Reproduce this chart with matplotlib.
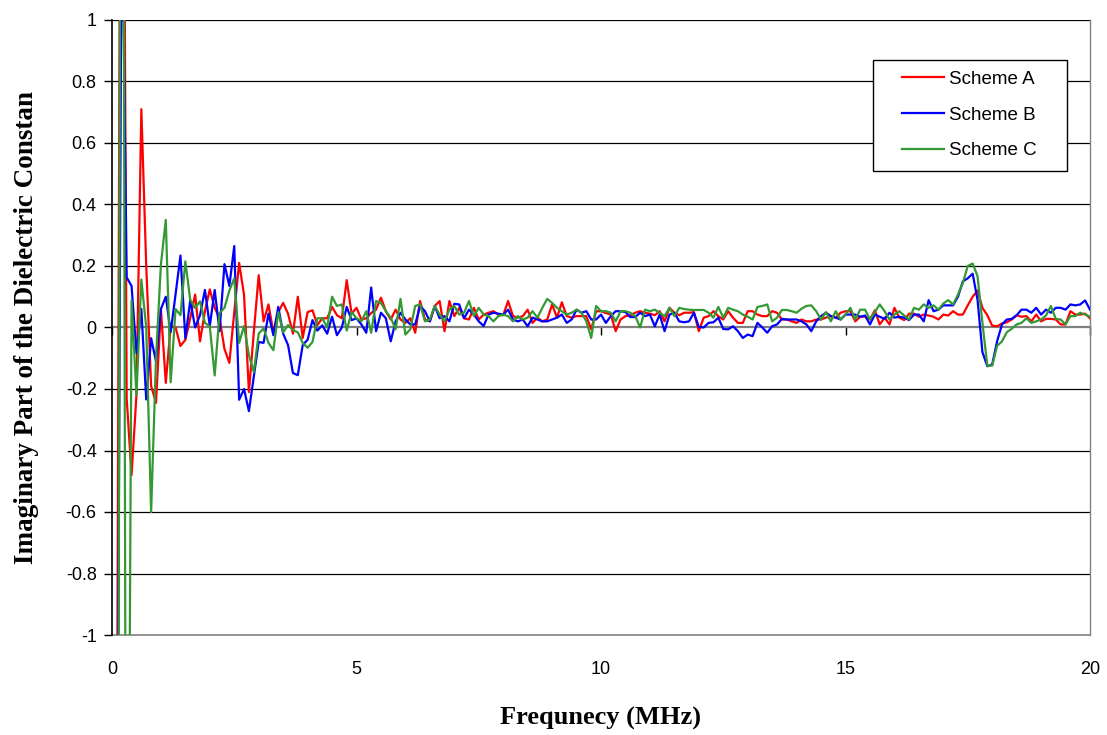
import numpy as np
import matplotlib
matplotlib.use("Agg")
import matplotlib.pyplot as plt
from matplotlib.patches import Rectangle

# Frequency samples (MHz): 0.1 ... 20.0
freq = np.arange(1, 201) / 10.0

scheme_a = [
    -1.5, 3.0, -0.23, -0.48, -0.22, 0.71, 0.20, -0.19, -0.245, 0.06,
    -0.18, 0.005, 0.0, -0.06, -0.04, 0.03, 0.107, -0.045, 0.053, 0.124,
    0.064, 0.03, -0.07, -0.115, 0.05, 0.21, 0.106, -0.21, -0.015, 0.17,
    0.02, 0.075, -0.016, 0.05, 0.08, 0.045, -0.02, 0.10, -0.034, 0.05,
    0.056, 0.008, 0.03, 0.03, 0.067, 0.04, 0.03, 0.154, 0.045, 0.064,
    0.026, 0.03, 0.047, 0.058, 0.097, 0.053, 0.026, 0.058, 0.026, 0.015,
    0.03, -0.017, 0.086, 0.026, 0.02, 0.07, 0.086, -0.012, 0.086, 0.037,
    0.064, 0.03, 0.026, 0.064, 0.026, 0.042, 0.048, 0.053, 0.042, 0.04,
    0.086, 0.037, 0.032, 0.037, 0.058, 0.015, 0.032, 0.02, 0.026, 0.075,
    0.032, 0.082, 0.037, 0.032, 0.037, 0.037, 0.037, -0.006, 0.053, 0.053,
    0.047, 0.042, -0.012, 0.026, 0.037, 0.04, 0.048, 0.053, 0.048, 0.045,
    0.04, 0.053, 0.02, 0.064, 0.048, 0.04, 0.048, 0.048, 0.05, -0.012,
    0.032, 0.037, 0.053, 0.037, 0.026, 0.053, 0.032, 0.015, 0.015, 0.053,
    0.053, 0.042, 0.037, 0.037, 0.053, 0.048, 0.026, 0.026, 0.02, 0.015,
    0.026, 0.02, 0.02, 0.026, 0.026, 0.032, 0.037, 0.032, 0.048, 0.053,
    0.053, 0.02, 0.035, 0.035, 0.026, 0.056, 0.01, 0.032, 0.01, 0.064,
    0.032, 0.024, 0.045, 0.045, 0.035, 0.042, 0.039, 0.035, 0.026, 0.042,
    0.039, 0.053, 0.042, 0.042, 0.072, 0.10, 0.12, 0.064, 0.04, 0.006,
    0.004, 0.013, 0.017, 0.026, 0.04, 0.035, 0.037, 0.02, 0.042, 0.02,
    0.028, 0.028, 0.026, 0.01, 0.01, 0.053, 0.042, 0.042, 0.045, 0.03,
]

scheme_b = [
    -2.0, 1.5, 0.163, 0.135, -0.083, 0.06, -0.234, -0.035, -0.11, 0.06,
    0.10, -0.015, 0.108, 0.234, -0.035, 0.088, 0.0, 0.04, 0.122, 0.005,
    0.122, -0.012, 0.206, 0.135, 0.265, -0.235, -0.2, -0.272, -0.16, -0.047,
    -0.05, 0.045, -0.025, 0.067, -0.02, -0.057, -0.148, -0.155, -0.057, -0.04,
    0.024, -0.01, 0.007, -0.02, 0.035, -0.025, 0.0, 0.067, 0.024, 0.03,
    0.01, -0.017, 0.13, -0.012, 0.048, 0.03, -0.045, 0.02, 0.048, 0.026,
    0.01, 0.01, 0.07, 0.053, 0.02, 0.07, 0.03, 0.037, 0.02, 0.077,
    0.075, 0.03, 0.058, 0.042, 0.02, 0.005, 0.042, 0.048, 0.045, 0.042,
    0.058, 0.026, 0.02, 0.026, 0.004, 0.032, 0.026, 0.02, 0.02, 0.026,
    0.032, 0.042, 0.015, 0.026, 0.058, 0.048, 0.053, 0.026, 0.026, 0.042,
    0.015, 0.037, 0.053, 0.053, 0.05, 0.034, 0.034, 0.048, 0.037, 0.042,
    0.004, 0.042, -0.012, 0.042, 0.048, 0.02, 0.017, 0.02, 0.048, 0.002,
    0.0, 0.015, 0.017, 0.032, -0.005, -0.006, 0.004, -0.012, -0.034, -0.023,
    -0.028, 0.015, 0.0, -0.017, 0.004, 0.01, 0.028, 0.026, 0.026, 0.026,
    0.02, 0.01, -0.012, 0.02, 0.037, 0.048, 0.037, 0.032, 0.026, 0.042,
    0.042, 0.042, 0.035, 0.039, 0.01, 0.042, 0.035, 0.028, 0.048, 0.032,
    0.035, 0.032, 0.024, 0.042, 0.042, 0.02, 0.089, 0.053, 0.058, 0.072,
    0.072, 0.072, 0.10, 0.15, 0.16, 0.175, 0.09, -0.08, -0.126, -0.12,
    -0.045, 0.01, 0.026, 0.028, 0.04, 0.058, 0.058, 0.048, 0.064, 0.042,
    0.058, 0.048, 0.064, 0.064, 0.058, 0.075, 0.072, 0.075, 0.088, 0.058,
]

scheme_c = [
    -4.0, 4.0, -3.0, 0.088, -0.22, 0.156, 0.0, -0.60, -0.1, 0.205,
    0.35, -0.178, 0.06, 0.04, 0.215, 0.09, 0.064, 0.085, 0.015, 0.004,
    -0.156, 0.047, 0.064, 0.12, 0.16, -0.05, 0.005, -0.09, -0.145, -0.02,
    -0.003, -0.05, -0.074, 0.05, -0.016, 0.008, -0.008, -0.016, -0.05, -0.066,
    -0.047, 0.03, 0.03, 0.0, 0.1, 0.07, 0.075, -0.01, 0.05, 0.03,
    0.02, 0.053, -0.017, 0.086, 0.08, 0.053, 0.032, -0.006, 0.093, -0.023,
    -0.006, 0.07, 0.075, 0.02, 0.026, 0.07, 0.042, 0.02, 0.058, 0.07,
    0.042, 0.048, 0.086, 0.037, 0.064, 0.042, 0.037, 0.02, 0.037, 0.042,
    0.037, 0.02, 0.037, 0.026, 0.032, 0.053, 0.032, 0.064, 0.093, 0.08,
    0.064, 0.053, 0.042, 0.048, 0.058, 0.048, 0.02, -0.034, 0.07, 0.053,
    0.053, 0.048, 0.02, 0.053, 0.053, 0.048, 0.037, 0.0, 0.058, 0.053,
    0.058, 0.048, 0.037, 0.064, 0.037, 0.064, 0.06, 0.058, 0.057, 0.057,
    0.057, 0.048, 0.032, 0.067, 0.032, 0.064, 0.058, 0.053, 0.042, 0.035,
    0.026, 0.067, 0.07, 0.075, 0.02, 0.032, 0.057, 0.057, 0.053, 0.048,
    0.061, 0.07, 0.072, 0.053, 0.026, 0.05, 0.02, 0.053, 0.026, 0.042,
    0.064, 0.026, 0.058, 0.058, 0.026, 0.05, 0.075, 0.053, 0.026, 0.042,
    0.053, 0.039, 0.026, 0.064, 0.058, 0.075, 0.064, 0.072, 0.058, 0.078,
    0.089, 0.075, 0.107, 0.145, 0.20, 0.208, 0.167, 0.015, -0.124, -0.124,
    -0.06, -0.045, -0.015, -0.004, 0.01, 0.015, 0.03, 0.015, 0.02, 0.026,
    0.039, 0.07, 0.028, 0.026, 0.01, 0.037, 0.037, 0.048, 0.042, 0.035,
]

series_names = ["Scheme A", "Scheme B", "Scheme C"]
series_colors = ["#ff0000", "#0000ff", "#339933"]
x_ticks = [0, 5, 10, 15, 20]
y_ticks = [-1, -0.8, -0.6, -0.4, -0.2, 0, 0.2, 0.4, 0.6, 0.8, 1]
y_tick_labels = ["-1", "-0.8", "-0.6", "-0.4", "-0.2", "0", "0.2", "0.4", "0.6", "0.8", "1"]

W, H = 1107, 735
fig = plt.figure(figsize=(W / 100, H / 100), dpi=100)
ax = fig.add_axes([112 / W, (H - 635) / H, (1090 - 112) / W, (635 - 20) / H])

for vals, name, col in zip([scheme_a, scheme_b, scheme_c], series_names, series_colors):
    ax.plot(freq, vals, color=col, lw=1.6, label=name, zorder=3)

ax.set_xlim(0, 20)
ax.set_ylim(-1, 1)

# gridlines
ax.set_yticks(y_ticks)
ax.set_yticklabels(y_tick_labels, fontfamily="Liberation Sans", fontsize=13)
for yv in y_ticks:
    if yv not in (0, -1):
        ax.axhline(yv, color="black", lw=0.9, zorder=1)

# spines
ax.spines["top"].set_visible(False)
ax.spines["left"].set_color("black")
ax.spines["left"].set_linewidth(1.2)
ax.spines["right"].set_color("#808080")
ax.spines["right"].set_linewidth(1.0)
ax.spines["bottom"].set_position(("data", 0))
ax.spines["bottom"].set_color("#808080")
ax.spines["bottom"].set_linewidth(1.6)
ax.spines["bottom"].set_zorder(2)

ax.set_xticks(x_ticks)
ax.tick_params(axis="x", direction="out", length=6, width=1, color="black",
               labelbottom=False)
ax.tick_params(axis="y", direction="out", length=6, width=1, color="black", pad=5)

sec = ax.secondary_xaxis(0)
sec.set_xticks(x_ticks)
sec.set_xticklabels([str(t) for t in x_ticks], fontfamily="Liberation Sans", fontsize=13)
sec.tick_params(length=0, pad=19)
sec.spines["bottom"].set_color("#808080")
sec.spines["bottom"].set_linewidth(1.2)

# axis titles
fig.text(601 / W, 1 - 718 / H, "Frequnecy (MHz)", family="Liberation Serif",
         weight="bold", fontsize=19, ha="center", va="center")
fig.text(27 / W, 1 - 328 / H, "Imaginary Part of the Dielectric Constan",
         family="Liberation Serif", weight="bold", fontsize=19.5, rotation=90,
         ha="center", va="center")

# legend box (drawn inside the axes, under the legend entries)
box = Rectangle((873 / W, 1 - 170.5 / H), (1067 - 873) / W, (170.5 - 60) / H,
                transform=fig.transFigure, facecolor="white",
                edgecolor="black", lw=1.0, zorder=4, clip_on=False)
ax.add_patch(box)
leg = ax.legend(loc="upper left",
                bbox_to_anchor=(902 / W, 1 - 70.5 / H), bbox_transform=fig.transFigure,
                prop={"family": "Liberation Sans", "size": 13.5}, frameon=False,
                handlelength=2.26, labelspacing=1.0, borderpad=0,
                handletextpad=0.27, borderaxespad=0)
leg.set_zorder(5)

fig.savefig("out.png", dpi=100)
